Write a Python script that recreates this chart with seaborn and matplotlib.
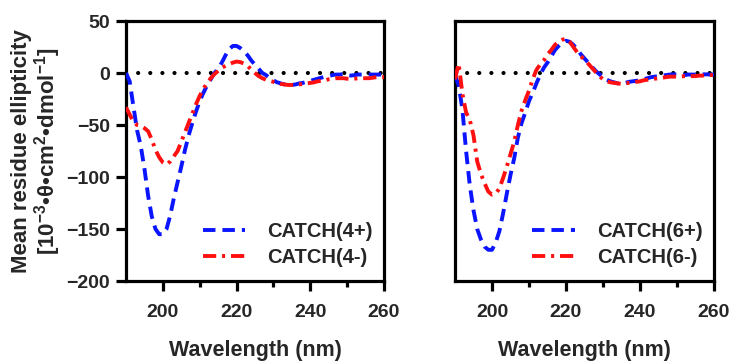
import numpy as np
import pandas as pd
import matplotlib
matplotlib.use("Agg")
import matplotlib.pyplot as plt
import seaborn as sns

# Wavelength grid (nm)
wavelength = list(range(190, 261))

# Mean residue ellipticity, 10^-3 deg cm^2 dmol^-1
catch4_plus = [0, -8, -32, -55, -70, -92, -118, -138, -150, -155,
               -155, -150, -137, -120, -105, -90, -74, -60, -48, -37,
               -27, -19, -12, -6, 0, 4, 10, 17, 23, 26,
               26, 24, 21, 17, 12, 8, 4, 0, -2, -5,
               -7, -9, -10, -11, -11.5, -11.5, -11, -10, -9.5, -8.5,
               -7.5, -6.5, -5.5, -4.5, -3.5, -3, -2, -1.5, -1.5, -1,
               -2, -2.5, -2, -1.5, -1.5, -1.5, -1.5, -1.5, -1.5, -1.5,
               -1.5]
catch4_minus = [-33, -40, -47, -50, -51, -53, -56, -64, -74, -81,
                -86, -88, -85, -80, -75, -66, -57, -48, -39, -30,
                -22, -15, -10, -5, -1, 2, 5, 7, 8.5, 10,
                11, 10.5, 9, 7, 3, 0, -3, -5, -6.5, -7.5,
                -8.5, -9.5, -10.5, -11, -11.5, -11.5, -11.5, -11, -10.5, -10,
                -9.5, -9, -8, -7.5, -7, -6, -5.5, -5, -5, -5,
                -5.5, -5.8, -5.5, -5, -5, -5, -5, -4.5, -4, -4,
                -4]
catch6_plus = [-2, -12, -35, -75, -108, -132, -150, -160, -167, -170,
               -170, -163, -152, -135, -116, -98, -82, -62, -48, -38,
               -27, -19, -10, -2, 5, 10, 16, 22, 26, 29,
               31, 30, 27, 23, 18, 14, 10, 6, 2, -1,
               -4, -6.5, -8, -9, -10, -10, -9.5, -8.5, -8, -7.5,
               -7, -6, -5, -4, -3.5, -3, -2.5, -2, -1.5, -1.3,
               -1.5, -2, -2, -1.5, -1.5, -1.5, -1.5, -1.3, -1.3, -1.5,
               -1.5]
catch6_minus = [-6, 9, -20, -38, -45, -60, -85, -97, -106, -114,
                -117, -116, -111, -101, -90, -78, -66, -50, -36, -26,
                -17, -6, 3, 8, 12, 18, 22, 27, 30, 32,
                33, 30, 25, 20, 16, 13, 9, 5, 1, -3,
                -6, -8, -9, -9.5, -10, -10.5, -10, -9.5, -9, -8.5,
                -8, -7, -6.5, -6, -5.5, -5, -4.5, -4, -3.5, -3.5,
                -3.5, -3.5, -3, -3, -3, -3, -2.5, -2.5, -2, -2,
                -2]

panels = [
    (["CATCH(4+)", "CATCH(4-)"], [catch4_plus, catch4_minus]),
    (["CATCH(6+)", "CATCH(6-)"], [catch6_plus, catch6_minus]),
]

sns.set_theme(style="ticks")
plt.rcParams["font.family"] = ["Liberation Sans", "DejaVu Sans"]
plt.rcParams["font.weight"] = "bold"
plt.rcParams["mathtext.fontset"] = "custom"
plt.rcParams["mathtext.rm"] = "Liberation Sans:bold"
plt.rcParams["mathtext.it"] = "Liberation Sans:bold"
plt.rcParams["mathtext.bf"] = "Liberation Sans:bold"

TICK_FS = 14
XLAB_FS = 15.5
YLAB_FS = 16
LEG_FS = 14.5

fig = plt.figure(figsize=(7.36, 3.64), dpi=100)
ax_pos = [[126 / 736, 83 / 364, 258 / 736, 260 / 364],
          [455 / 736, 83 / 364, 259 / 736, 260 / 364]]

for i, (names, series) in enumerate(panels):
    ax = fig.add_axes(ax_pos[i])
    df = pd.DataFrame({
        "wavelength": wavelength * 2,
        "value": series[0] + series[1],
        "sample": [names[0]] * len(wavelength) + [names[1]] * len(wavelength),
    })
    ax.axhline(0, color="black", lw=3.0, linestyle=(0.0, (0.01, 2.9)),
               dash_capstyle="round", zorder=1)
    sns.lineplot(data=df, x="wavelength", y="value", hue="sample", style="sample",
                 palette={names[0]: "#0a14ff", names[1]: "#ff1010"},
                 dashes={names[0]: (3.2, 1.8), names[1]: (3.4, 1.5, 0.8, 1.5)},
                 lw=2.8, ax=ax, zorder=3)

    ax.set_xlim(190, 260)
    ax.set_ylim(-200, 50)
    ax.set_xticks([200, 220, 240, 260])
    ax.set_xticks([210, 230, 250], minor=True)
    ax.set_yticks([50, 0, -50, -100, -150, -200])
    for sp in ax.spines.values():
        sp.set_linewidth(2.3)
        sp.set_color("black")
        sp.set_visible(True)
    ax.tick_params(axis="both", which="major", length=7.5, width=2.3,
                   labelsize=TICK_FS, color="black", pad=4)
    ax.tick_params(axis="x", which="minor", length=4, width=2.3, color="black")
    ax.tick_params(axis="x", which="major", pad=9)
    for lab in ax.get_xticklabels() + ax.get_yticklabels():
        lab.set_fontweight("bold")
    ax.set_xlabel("Wavelength (nm)", fontsize=XLAB_FS, fontweight="bold", labelpad=14)
    if i == 0:
        ax.set_ylabel("Mean residue ellipticity\n"
                      "[10$^{-3}$•θ•cm$^{2}$•dmol$^{-1}$]",
                      fontsize=YLAB_FS, fontweight="bold", labelpad=2, linespacing=1.0)
    else:
        ax.set_ylabel("")
        ax.tick_params(axis="y", left=False, labelleft=False)

    handles, labels = ax.get_legend_handles_labels()
    ax.legend(handles, labels, loc="lower right", bbox_to_anchor=(1.01, 0.0),
              frameon=False, handlelength=2.1, handletextpad=1.1,
              labelspacing=0.35, borderaxespad=0.3,
              prop={"size": LEG_FS, "weight": "bold"})

fig.savefig("out.png", dpi=100)
